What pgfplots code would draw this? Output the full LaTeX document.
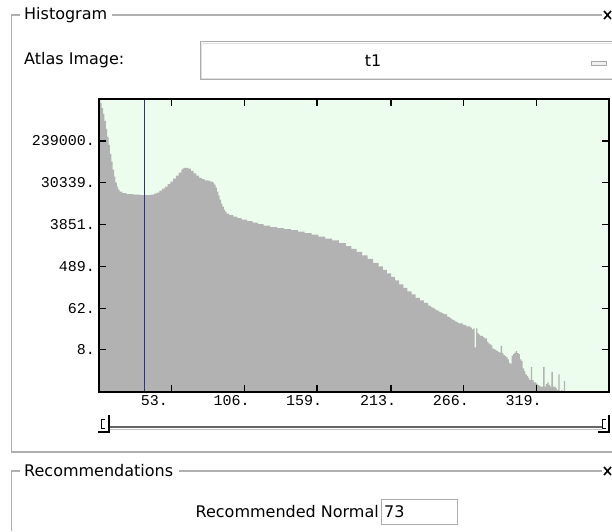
\documentclass[border=0pt]{standalone}
\usepackage{fontspec}
\setmainfont{DejaVu Sans}
\newfontfamily\monofont{Liberation Mono}
\usepackage{pgfplots}
\pgfplotsset{compat=1.18}
\definecolor{bggreen}{RGB}{236,253,237}
\definecolor{histgray}{RGB}{178,178,178}
\definecolor{markblue}{RGB}{48,48,135}
\definecolor{frameline}{RGB}{175,175,175}

\pgfplotstableread{
x y
0 1800000
1 1550000
2 1210000
3 903000
4 640000
5 432000
6 292000
7 197000
8 126000
9 85300
10 57600
11 40800
12 30400
13 25000
14 21500
15 19500
17 18100
20 17300
25 16800
30 16400
35 16400
38 16800
40 17700
42 18600
44 20500
46 22600
48 25000
50 28200
52 31900
54 37000
56 42900
58 49700
60 57600
61 62000
62 63500
64 63500
65 60500
67 54800
69 48400
71 42900
73 38800
75 36100
77 34300
79 33500
81 31900
83 30400
84 27500
85 23800
86 19500
87 16000
88 13200
89 10800
90 9340
91 8060
92 7300
93 6620
95 6150
98 5710
101 5310
104 4930
108 4580
112 4250
116 3950
120 3670
125 3410
130 3250
135 3090
140 2940
145 2730
150 2540
155 2360
160 2140
165 1940
170 1760
175 1550
180 1340
184 1160
188 998
192 840
196 708
200 581
204 489
207 412
210 347
213 292
216 246
219 202
222 170
225 143
228 124
231 104
234 92
237 81
240 72
241 70
242 66
243 64
244 62
245 59
246 56
247 55
248 52
249 51
250 49
251 47
252 46
253 47
254 41
255 40
256 38
257 36
258 35
259 34
260 32
261 31
262 30
263 29
264 30
265 28
266 27
267 27
268 25
269 26
270 25
271 24
272 22
273 23
274 9
275 23
276 18
277 17
278 16
279 16
280 15
281 14
282 14
283 12
284 11
285 10.5
286 10
287 8.5
288 8.3
289 8
290 7.5
291 7.2
292 7
293 9.7
294 6.8
295 6.2
296 5.9
297 5.6
298 5
299 4.2
300 4
301 6
302 6.5
303 7
304 7.5
305 6.8
306 6.5
307 5
308 4.6
309 3.2
310 2.8
311 2.4
312 2.2
313 2
314 1.8
315 3.4
316 1.8
317 1.6
318 1.6
319 1.5
320 1.4
321 1.35
322 1.3
323 1.3
324 3.4
325 1.3
326 1.5
327 1.6
328 1.4
329 1.3
330 2.7
331 1.3
332 1.3
333 1.2
334 1.1
335 2.4
336 1
337 1.1
338 1
339 1.74
340 1
345 1
}\histdata

\begin{document}
\begin{tikzpicture}
\begin{scope}[x=1pt,y=1pt]
\fill[white] (0,0) rectangle (612,531);
\useasboundingbox (0,0) rectangle (612,531);
\tikzset{guitext/.style={inner sep=0pt, font=\fontsize{16}{19}\selectfont}}
% Histogram frame
\draw[frameline, line width=1.1pt] (20,516) -- (11.5,516) -- (11.5,79) -- (612,79);
\draw[frameline, line width=1.1pt] (112,516) -- (602,516);
\node[guitext, anchor=west] at (24,516) {Histogram};
\draw[black, line width=1.6pt] (604,512) -- (611,520) (604,520) -- (611,512);
\node[guitext, anchor=west] at (24,471) {Atlas Image:};
% dropdown
\draw[gray!65, line width=1pt] (200,451) rectangle (614,489);
\draw[gray!25, line width=1pt] (201.5,452.5) rectangle (614,487.5);
\node[guitext] at (373,470) {t1};
\draw[gray!70, fill=gray!12, line width=0.8pt] (591,466) rectangle (606,470);
% slider
\draw[gray!80!black, line width=1.4pt] (109,104) -- (602,104);
\draw[gray!45, line width=1pt] (109,102) -- (602,102);
\draw[black, line width=1.3pt] (98,99) -- (109,99) -- (109,116);
\draw[black, line width=1pt] (104.5,112) -- (101.5,112) -- (101.5,103) -- (104.5,103);
\draw[black, line width=1.3pt] (598,99) -- (609,99) -- (609,116);
\draw[black, line width=1pt] (605.5,112) -- (602.5,112) -- (602.5,103) -- (605.5,103);
% Recommendations frame
\draw[frameline, line width=1.1pt] (20,60) -- (11.5,60) -- (11.5,0);
\draw[frameline, line width=1.1pt] (179,60) -- (602,60);
\node[guitext, anchor=west] at (24,60) {Recommendations};
\draw[black, line width=1.6pt] (604,56) -- (611,64) (604,64) -- (611,56);
\node[guitext, anchor=east] at (379,19) {Recommended Normal};
\draw[gray!65, line width=1pt] (381,7) rectangle (457,32);
\node[guitext, anchor=west] at (384,19) {73};
\end{scope}

\begin{axis}[
  at={(99pt,139pt)}, anchor=south west, scale only axis,
  width=510pt, height=293pt,
  xmin=0, xmax=372, ymode=log, ymin=1, ymax=1886574,
  axis background/.style={fill=bggreen},
  axis on top,
  axis line style={black, line width=1.3pt},
  xtick={53,106,159,213,266,319},
  xticklabels={53.,106.,159.,213.,266.,319.},
  ytick={8,62,489,3851,30339,239000},
  yticklabels={8.,62.,489.,3851.,30339.,239000.},
  yminorticks=false, xminorticks=false,
  tick align=inside, xtick pos=both, ytick pos=both,
  major tick length=7pt,
  tick style={black, line width=1.3pt},
  xticklabel style={font=\monofont\fontsize{15}{15}\selectfont, anchor=north west, xshift=-31pt, inner sep=0pt, yshift=-3pt},
  yticklabel style={font=\monofont\fontsize{15}{15}\selectfont, anchor=east, inner sep=0pt, xshift=-4pt},
]
\addplot[const plot, fill=histgray, draw=none] table[x=x, y=y] {\histdata} \closedcycle;
\addplot[markblue, line width=1.2pt] coordinates {(33,1) (33,1886574)};
\end{axis}
\end{tikzpicture}
\end{document}
